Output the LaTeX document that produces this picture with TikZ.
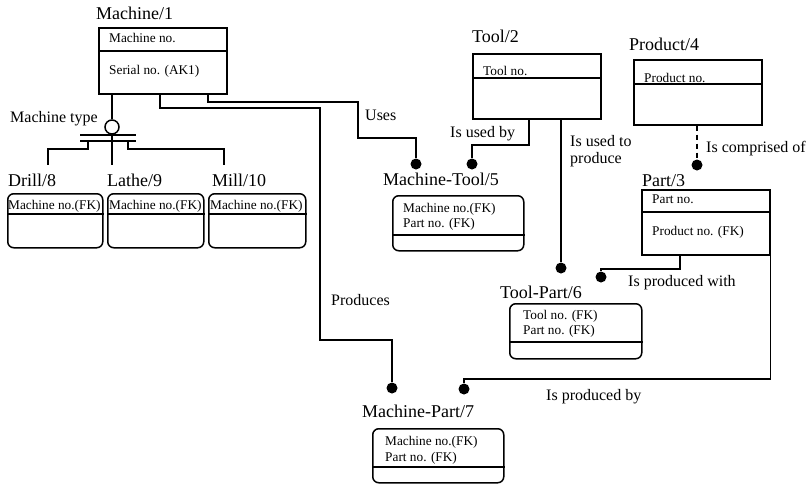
\documentclass[tikz,border=0pt]{standalone}
\usepackage{fontspec}
\setmainfont{Liberation Serif}
\usetikzlibrary{positioning}
\tikzset{
every node/.style={inner sep=0pt},
link/.style={line width=1.5pt},
entity/.style={rectangle, draw, line width=1.5pt, anchor=north west, minimum width=128pt, minimum height=65pt},
weak/.style={entity, rounded corners=6pt},
title/.style={anchor=base west, font=\fontsize{18}{20}\selectfont},
attr/.style={anchor=base west, font=\fontsize{13.3}{15}\selectfont},
rel/.style={anchor=base west, font=\fontsize{16}{17}\selectfont},
dot/.style={circle, fill, minimum size=11pt}
}

\begin{document}
\begin{tikzpicture}[x=1pt, y=-1pt]
\useasboundingbox (0,0) rectangle (809,485);

% entity boxes
\node[entity, minimum height=66pt] (machine) at (98,27) {};
\node[entity] (tool) at (472,53) {};
\node[entity] (product) at (633,59) {};
\node[entity] (part) at (641,189) {};
\node[weak, minimum width=131pt, minimum height=55pt] (mtool) at (392,195) {};
\node[weak, minimum width=132pt, minimum height=55pt] (tpart) at (509,303) {};
\node[weak, minimum width=131pt, minimum height=54pt] (mpart) at (372,428) {};
\node[weak, minimum width=95pt, minimum height=54pt] (drill) at (7,193) {};
\node[weak, minimum width=96pt, minimum height=54pt] (lathe) at (107,193) {};
\node[weak, minimum width=97pt, minimum height=54pt] (mill) at (208,193) {};

\foreach \e/\y in {machine/51, tool/78, product/84, part/212, mtool/235, tpart/342, mpart/467, drill/214, lathe/214, mill/214}
  \draw[link] (\e.west |- 0,\y) -- (\e.east |- 0,\y);

% titles
\node[title] (machinet) at (96,19) {Machine/1};
\node[title] (toolt) at (472,42) {Tool/2};
\node[title] (productt) at (629,50) {Product/4};
\node[title] (partt) at (642,186) {Part/3};
\node[title] (mtoolt) at (383,185) {Machine-Tool/5};
\node[title] (tpartt) at (500,298) {Tool-Part/6};
\node[title] (mpartt) at (362,417) {Machine-Part/7};
\node[title] (drillt) at (8,186) {Drill/8};
\node[title] (lathet) at (107,186) {Lathe/9};
\node[title] (millt) at (212,186) {Mill/10};

% attributes
\node[attr] (machinea) at (109,42) {Machine no.};
\node[attr] (machineb) at (109,74) {Serial no. (AK1)};
\node[attr] (toola) at (483,75) {Tool no.};
\node[attr] (producta) at (644,82) {Product no.};
\node[attr] (parta) at (652,203) {Part no.};
\node[attr] (partb) at (652,235) {Product no. (FK)};
\node[attr] (mtoola) at (403,212) {Machine no.(FK)};
\node[attr] (mtoolb) at (403,227) {Part no. (FK)};
\node[attr] (tparta) at (523,319) {Tool no. (FK)};
\node[attr] (tpartb) at (523,334) {Part no. (FK)};
\node[attr] (mparta) at (385,445) {Machine no.(FK)};
\node[attr] (mpartb) at (385,461) {Part no. (FK)};
\node[attr] (drilla) at (8,209) {Machine no.(FK)};
\node[attr] (lathea) at (109,209) {Machine no.(FK)};
\node[attr] (milla) at (210,209) {Machine no.(FK)};

% relationship labels
\node[rel] (typel) at (10,122) {Machine type};
\node[rel] (usesl) at (365,120) {Uses};
\node[rel] (usedbyl) at (450,137) {Is used by};
\node[rel] (usedtol) at (570,146) {Is used to};
\node[rel] (producel) at (570,163) {produce};
\node[rel] (comprisedl) at (706,152) {Is comprised of};
\node[rel] (withl) at (628,286) {Is produced with};
\node[rel] (producesl) at (331,305) {Produces};
\node[rel] (byl) at (546,400) {Is produced by};

% dots
\node[dot] (mt1) at (416,164) {};
\node[dot] (mt2) at (472,164) {};
\node[dot] (pd) at (697,165) {};
\node[dot] (tp1) at (561,268) {};
\node[dot] (tp2) at (601,277) {};
\node[dot] (mp1) at (392,388) {};
\node[dot] (mp2) at (464,389) {};

% subtype symbol
\node[circle, draw, line width=1.5pt, minimum size=14pt] (mtype) at (112,127) {};
\coordinate (sub) at (112,141);
\coordinate (drillc) at (48,165);
\coordinate (lathec) at (112,165);
\coordinate (millc) at (224,165);
\draw[link] (machine.south -| mtype) -- (mtype);
\draw[link] (mtype.south -| 80,0) -- (mtype.south -| 136,0);
\draw[link] (sub -| 80,0) -- (sub -| 136,0);
\draw[link] (mtype.south) -- (lathec);
\draw[link] (sub -| 88,0) |- (drillc |- 0,149) -- (drillc);
\draw[link] (sub -| 128,0) |- (millc |- 0,149) -- (millc);

% relationships
\draw[link] (machine.south -| 160,0) |- (320,108) |- (mp1 |- 0,340) -- (mp1);
\draw[link] (machine.south -| 208,0) |- (358,102) |- (mt1 |- 0,138) -- (mt1);
\draw[link] (tool.south -| 529,0) |- (mt2 |- 0,145) -- (mt2);
\draw[link] (tool.south -| tp1) -- (tp1);
\draw[link, dash pattern=on 5pt off 4pt] (product.south -| pd) -- (pd);
\draw[link] (part.south -| 680,0) |- (tp2 |- 0,269) -- (tp2);
\draw[link] (part.south east) |- (mp2 |- 0,379) -- (mp2);
\end{tikzpicture}
\end{document}
